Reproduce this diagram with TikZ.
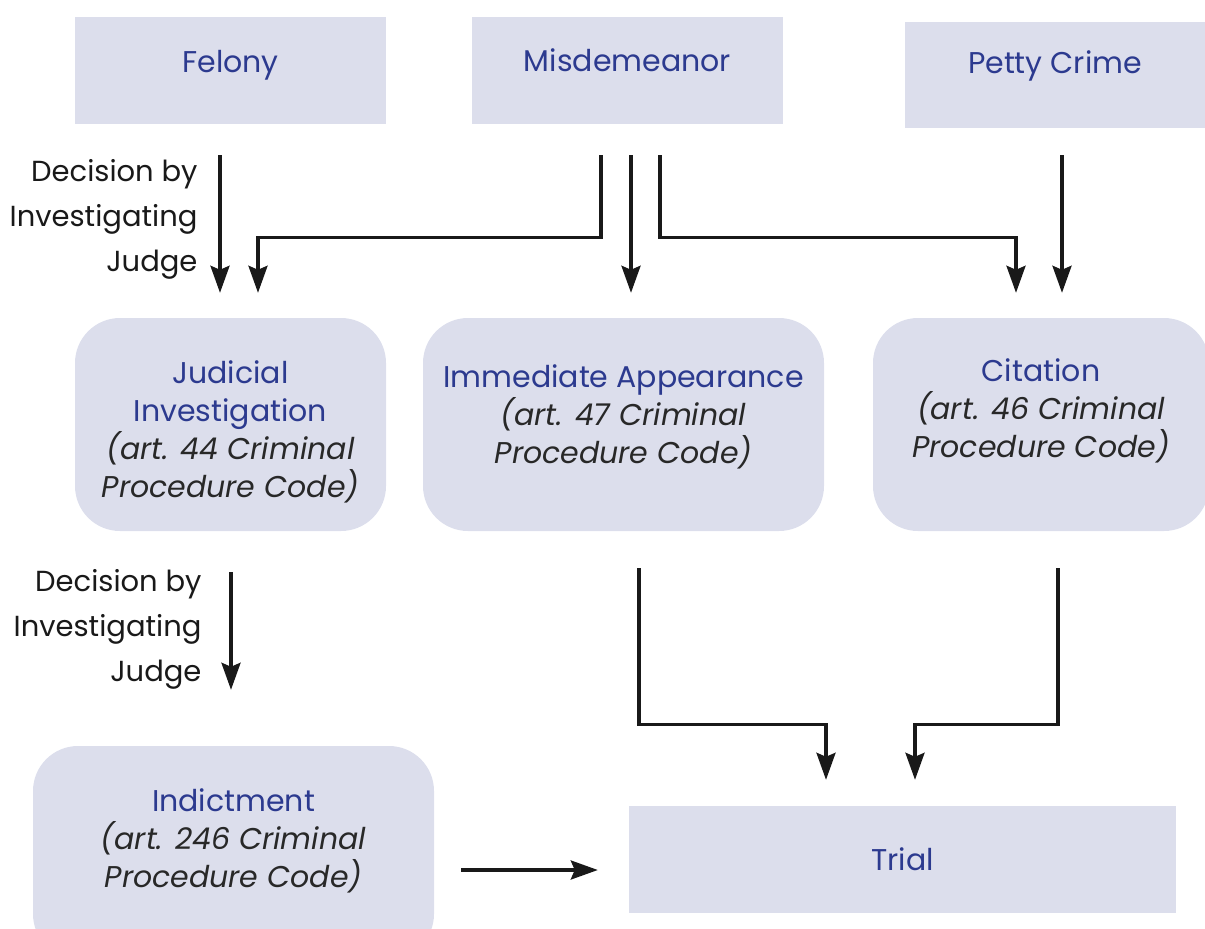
\documentclass[tikz,border=0pt]{standalone}
\usepackage{fontspec}
\setmainfont{Poppins}
\usepackage{tikz}
\usetikzlibrary{arrows.meta, calc}
\definecolor{boxfill}{RGB}{220, 222, 236}
\definecolor{titleblue}{RGB}{44, 58, 143}
\definecolor{notegray}{RGB}{40, 40, 40}

\begin{document}
\begin{tikzpicture}[x=1pt, y=-1pt,
    crime/.style={fill=boxfill, minimum width=311pt, minimum height=107pt, text=titleblue, font=\fontsize{30}{38}\selectfont},
    proc/.style={fill=boxfill, rounded corners=45pt, minimum height=213pt, align=center, font=\fontsize{30}{38}\selectfont},
    arr/.style={-{Stealth[length=27pt, width=19pt, inset=4pt]}, line width=3.3pt, color=black!90},
    why/.style={align=right, text=black!90, font=\fontsize{29}{45}\selectfont}]
        \useasboundingbox (0,0) rectangle (1205,929);

        % top row: kinds of offence
        \node[crime] (felony) at (230.5, 70.5) {\raisebox{18pt}{Felony}};
        \node[crime] (misd) at (627.5, 70.5) {\raisebox{20pt}{Misdemeanor}};
        \node[crime, minimum width=300pt, minimum height=106pt] (petty) at (1055, 75) {\raisebox{26pt}{Petty Crime}};

        % middle row: procedures
        \node[proc, minimum width=311pt] (judicial) at (230.5, 424.5)
            {\rule{0pt}{38pt}\textcolor{titleblue}{Judicial}\\\textcolor{titleblue}{Investigation}\\\textcolor{notegray}{\itshape (art. 44 Criminal}\\\textcolor{notegray}{\itshape Procedure Code)}};
        \node[proc, minimum width=401pt] (immediate) at (623.5, 424.5)
            {\textcolor{titleblue}{Immediate Appearance}\\\textcolor{notegray}{\itshape (art. 47 Criminal}\\\textcolor{notegray}{\itshape Procedure Code)}\\[-18pt]};
        \node[proc, minimum width=336pt] (citation) at (1041, 424.5)
            {\textcolor{titleblue}{Citation}\\\textcolor{notegray}{\itshape (art. 46 Criminal}\\\textcolor{notegray}{\itshape Procedure Code)}\\[-6pt]};

        % bottom row
        \node[proc, minimum width=401pt] (indict) at (233.5, 852.5)
            {\textcolor{titleblue}{Indictment}\\\textcolor{notegray}{\itshape (art. 246 Criminal}\\\textcolor{notegray}{\itshape Procedure Code)}\\[-10pt]};
        \node[crime, minimum width=547pt] (trial) at (902.5, 859.5) {Trial};

        % side labels
        \node[why, anchor=east] (judgeA) at (201, 219) {Decision by\\Investigating\\Judge};
        \node[why, anchor=east] (judgeB) at (205, 629) {Decision by\\Investigating\\Judge};

        % arrows from the top row
        \draw[arr] ($(felony.south)+(-10.5,31)$) -- ($(judicial.north)+(-10.5,-25)$);
        \draw[arr] ($(misd.south)+(-26.5,31)$) -- ++(0,82) -| ($(judicial.north)+(27.5,-25)$);
        \draw[arr] ($(misd.south)+(3.5,31)$) -- ($(immediate.north)+(7.5,-25)$);
        \draw[arr] ($(misd.south)+(32.5,31)$) -- ++(0,82) -| ($(citation.north)+(-25,-25)$);
        \draw[arr] ($(petty.south)+(7,27)$) -- ($(citation.north)+(21,-25)$);

        % arrows to the bottom row
        \draw[arr] ($(judicial.south)+(0.5,41)$) -- ($(indict.north)+(-2.5,-56)$);
        \draw[arr] ($(immediate.south)+(15.5,37)$) -- ++(0,156) -| ($(trial.north)+(-76.5,-26)$);
        \draw[arr] ($(citation.south)+(17,37)$) -- ++(0,156) -| ($(trial.north)+(12.5,-26)$);
        \draw[arr] ($(indict.east)+(27,17.5)$) -- ($(trial.west)+(-31,10.5)$);
    \end{tikzpicture}
\end{document}
